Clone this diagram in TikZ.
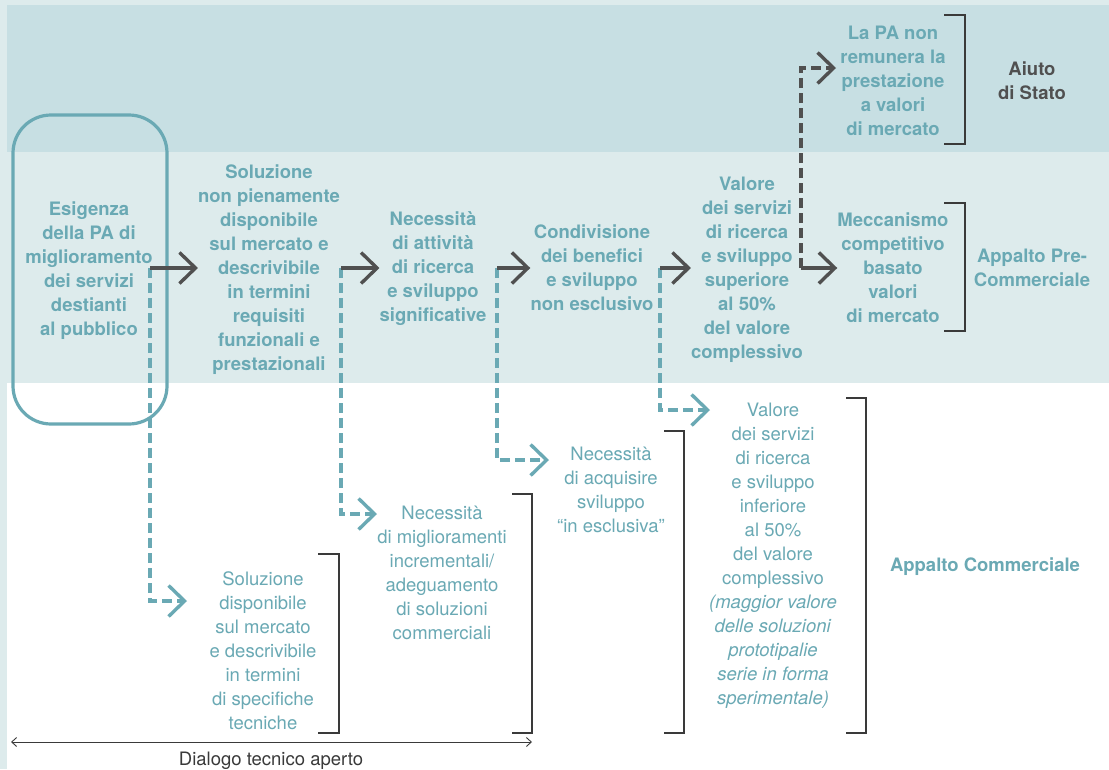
\documentclass[tikz,border=0pt]{standalone}
\usepackage{fontspec}
\setmainfont{TeX Gyre Heros}
\usetikzlibrary{arrows.meta}
\definecolor{bandA}{HTML}{C7DFE3}
\definecolor{bandB}{HTML}{DDEBEC}
\definecolor{tealT}{HTML}{6AA9B4}
\definecolor{grayA}{HTML}{505050}
\definecolor{grayB}{HTML}{3A3A3A}
\begin{document}
\begin{tikzpicture}[x=1pt,y=-1pt,
  lbl/.style={align=center, inner sep=0pt, text=tealT,
    font=\fontsize{18.5}{24}\selectfont\bfseries,
    execute at begin node=\strut, execute at end node=\strut},
  lblr/.style={lbl, font=\fontsize{18.5}{24}\selectfont},
  lblg/.style={lbl, text=grayA},
  gar/.style={draw=grayA, line width=3.4pt, -{Straight Barb[length=16pt,width=31pt]}},
  tdash/.style={draw=tealT, line width=3.4pt, dash pattern=on 10pt off 5pt,
    -{Straight Barb[length=16pt,width=31pt]}},
  gdash/.style={draw=grayA, line width=3.4pt, dash pattern=on 10pt off 5pt,
    -{Straight Barb[length=16pt,width=31pt]}},
  brk/.style={draw=grayB, line width=1.3pt},
  dim/.style={draw=grayB, line width=0.9pt,
    {Straight Barb[length=5pt,width=9pt]}-{Straight Barb[length=5pt,width=9pt]}}
]
\useasboundingbox (0,0) rectangle (1109,769);
% backgrounds
\fill[bandB] (0,0) rectangle (1109,769);
\fill[bandA] (7,5) rectangle (1109,152);
\fill[white] (7,383) rectangle (1109,769);

% top-row nodes
\node[draw=tealT, line width=3.2pt, rounded corners=38pt,
      minimum width=154pt, minimum height=309pt] (box1) at (90,269.5) {};
\node[lbl] (n1) at (89,272)
  {Esigenza\\della PA di\\miglioramento\\dei servizi\\destianti\\al pubblico};
\node[lbl] (n2) at (269,271)
  {Soluzione\\non pienamente\\disponibile\\sul mercato e\\descrivibile\\in termini\\requisiti\\funzionali e\\prestazionali};
\node[lbl] (n3) at (433,270.5)
  {Necessità\\di attività\\di ricerca\\e sviluppo\\significative};
\node[lbl] (n4) at (592,271.5)
  {Condivisione\\dei benefici\\e sviluppo\\non esclusivo};
\node[lbl] (n5) at (747,271)
  {Valore\\dei servizi\\di ricerca\\e sviluppo\\superiore\\al 50\%\\del valore\\complessivo};
\node[lbl] (n6) at (893,84.5)
  {La PA non\\remunera la\\prestazione\\a valori\\di mercato};
\node[lbl] (n7) at (893,271.5)
  {Meccanismo\\competitivo\\basato\\valori\\di mercato};
\node[lblg] (aiuto) at (1032,84.5) {Aiuto\\di Stato};
\node[lbl] (pre) at (1032,271.5) {Appalto Pre-\\Commerciale};

% bottom nodes
\node[lblr] (n10) at (263,654.5)
  {Soluzione\\disponibile\\sul mercato\\e descrivibile\\in termini\\di specifiche\\tecniche};
\node[lblr] (n11) at (442,576.5)
  {Necessità\\di miglioramenti\\incrementali/\\adeguamento\\di soluzioni\\commerciali};
\node[lblr] (n12) at (611,493.5)
  {Necessità\\di acquisire\\sviluppo\\“in esclusiva”};
\node[lblr] (n13) at (773,557.5)
  {Valore\\dei servizi\\di ricerca\\e sviluppo\\inferiore\\al 50\%\\del valore\\complessivo\\\textit{(maggior valore}\\\textit{delle soluzioni}\\\textit{prototipalie}\\\textit{serie in forma}\\\textit{sperimentale)}};
\node[lbl] (comm) at (985,566.5) {Appalto Commerciale};
\node[lblr, text=grayB] (dial) at (271,760.5) {Dialogo tecnico aperto};

% branch coordinates
\coordinate (t1) at (150,268);
\coordinate (t2) at (341,268);
\coordinate (t3) at (497,268);
\coordinate (t4) at (660,268);
\coordinate (t5) at (801,268);
\coordinate (a1) at (187,601);
\coordinate (a2) at (377,514);
\coordinate (a3) at (549,460);
\coordinate (a4) at (710,410);
\coordinate (a5) at (836,68);

% dashed branches (drawn first)
\draw[tdash] (t1) |- (a1);
\draw[tdash] (t2) |- (a2);
\draw[tdash] (t3) |- (a3);
\draw[tdash] (t4) |- (a4);
\draw[gdash] (t5) |- (a5);

% solid main arrows
\draw[gar] (t1) -- (t1 -| n2.west);
\draw[gar] (t2) -- (t2 -| n3.west);
\draw[gar] (t3) -- (t3 -| n4.west);
\draw[gar] (t4) -- (t4 -| n5.west);
\draw[gar] (t5) -- (t5 -| n7.west);

% brackets
\draw[brk] (944,15) -- (965,15) -- (965,144) -- (944,144);
\draw[brk] (944,203) -- (965,203) -- (965,331) -- (944,331);
\draw[brk] (318,554) -- (339,554) -- (339,733) -- (318,733);
\draw[brk] (512,494) -- (532,494) -- (532,733) -- (512,733);
\draw[brk] (664,431) -- (684,431) -- (684,733) -- (664,733);
\draw[brk] (846,398) -- (866,398) -- (866,733) -- (846,733);

% dimension line
\coordinate (dl) at (11,742);
\coordinate (dr) at (532,742);
\draw[dim] (dl) -- (dr);
\end{tikzpicture}
\end{document}
